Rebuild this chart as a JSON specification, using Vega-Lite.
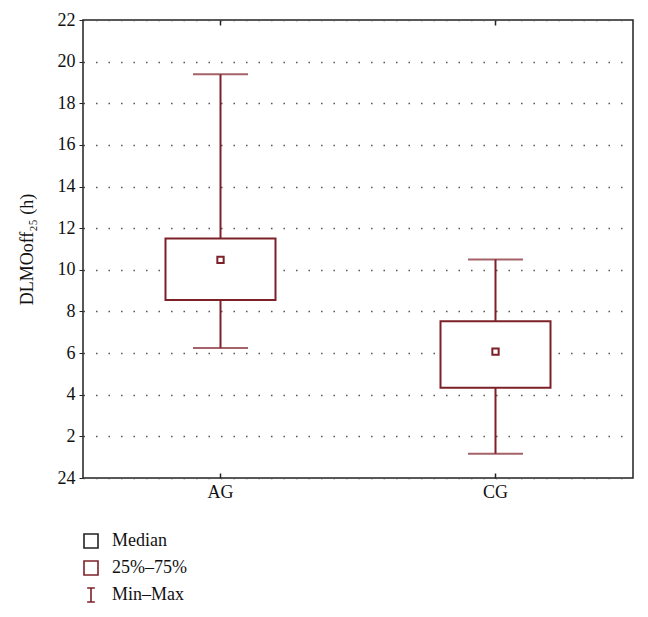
{
  "$schema": "https://vega.github.io/schema/vega-lite/v6.json",
  "width": 550,
  "height": 458,
  "autosize": {"type": "none"},
  "padding": {"left": 83, "top": 20, "right": 15, "bottom": 139},
  "background": "white",
  "config": {
    "font": "Liberation Serif",
    "view": {"stroke": "#222", "strokeWidth": 1.5},
    "axis": {"labelFont": "Liberation Serif", "titleFont": "Liberation Serif", "labelColor": "#111", "titleColor": "#111"}
  },
  "datasets": {
    "stats": [
      {"group": "AG", "min": 6.25, "q1": 8.55, "median": 10.48, "q3": 11.5, "max": 19.39},
      {"group": "CG", "min": 1.17, "q1": 4.33, "median": 6.07, "q3": 7.53, "max": 10.5}
    ],
    "legend": [
      {"item": "Median"},
      {"item": "25%–75%"},
      {"item": "Min–Max"}
    ]
  },
  "data": {"name": "stats"},
  "encoding": {
    "x": {
      "field": "group", "type": "nominal",
      "scale": {"type": "band", "domain": ["AG", "CG"], "paddingInner": 0, "paddingOuter": 0},
      "axis": null
    }
  },
  "layer": [
    {
      "mark": {"type": "rule", "color": "#7d2128", "strokeWidth": 2},
      "encoding": {
        "x": {"field": "group", "type": "nominal",
          "scale": {"type": "band", "domain": ["AG", "CG"], "paddingInner": 0, "paddingOuter": 0},
          "axis": {"orient": "bottom", "title": null, "labelAngle": 0, "labelFontSize": 18, "labelPadding": 10, "tickSize": -5, "tickColor": "#222", "tickWidth": 1.5, "domain": false, "grid": false}},
        "y": {"field": "min", "type": "quantitative",
          "scale": {"domain": [0, 22], "nice": false, "zero": false},
          "axis": {
            "title": "DLMOoff₂₅ (h)", "titleFontSize": 18, "titleFontWeight": "normal", "titlePadding": 21,
            "values": [0, 2, 4, 6, 8, 10, 12, 14, 16, 18, 20, 22],
            "labelExpr": "datum.value == 0 ? '24' : datum.label",
            "labelFontSize": 18, "labelPadding": 4, "tickSize": 4, "tickColor": "#222", "domain": false,
            "grid": true, "gridColor": "#555", "gridDash": [1.5, 11], "gridWidth": 1.3
          }},
        "y2": {"field": "q1"}
      }
    },
    {
      "mark": {"type": "rule", "color": "#7d2128", "strokeWidth": 2},
      "encoding": {
        "x": {"field": "group", "type": "nominal",
          "scale": {"type": "band", "domain": ["AG", "CG"], "paddingInner": 0, "paddingOuter": 0},
          "axis": {"orient": "top", "title": null, "labels": false, "tickSize": -5, "tickColor": "#222", "tickWidth": 1.5, "domain": false, "grid": false}},
        "y": {"field": "q3", "type": "quantitative"},
        "y2": {"field": "max"}
      }
    },
    {
      "mark": {"type": "bar", "size": 110, "fill": "white", "stroke": "#7d2128", "strokeWidth": 2},
      "encoding": {
        "y": {"field": "q1", "type": "quantitative"},
        "y2": {"field": "q3"}
      }
    },
    {
      "mark": {"type": "tick", "size": 55, "thickness": 2, "color": "#7d2128", "orient": "horizontal"},
      "encoding": {"y": {"field": "min", "type": "quantitative"}}
    },
    {
      "mark": {"type": "tick", "size": 55, "thickness": 2, "color": "#7d2128", "orient": "horizontal"},
      "encoding": {"y": {"field": "max", "type": "quantitative"}}
    },
    {
      "mark": {"type": "point", "shape": "square", "size": 40, "filled": false, "stroke": "#7d2128", "strokeWidth": 2, "opacity": 1},
      "encoding": {"y": {"field": "median", "type": "quantitative"}}
    },
    {
      "data": {"name": "legend"},
      "mark": {"type": "point", "opacity": 0, "filled": false},
      "encoding": {
        "x": {"value": 0},
        "y": {"value": 0},
        "color": {
          "field": "item", "type": "nominal",
          "scale": {"domain": ["Median", "25%–75%", "Min–Max"], "range": ["#222", "#7d2128", "#7d2128"]},
          "legend": {
            "orient": "none", "legendX": -1, "legendY": 512, "title": null,
            "labelFontSize": 18, "labelFont": "Liberation Serif", "labelColor": "#111",
            "symbolSize": 196, "symbolStrokeWidth": 1.6, "rowPadding": 5, "labelOffset": 12,
            "symbolOpacity": 1, "symbolFillColor": "transparent"
          }
        },
        "shape": {
          "field": "item", "type": "nominal",
          "scale": {"domain": ["Median", "25%–75%", "Min–Max"], "range": ["square", "square", "M-0.55,-1H0.55M0,-1V1M-0.55,1H0.55"]},
          "legend": null
        }
      }
    }
  ],
  "resolve": {"axis": {"x": "independent"}}
}
